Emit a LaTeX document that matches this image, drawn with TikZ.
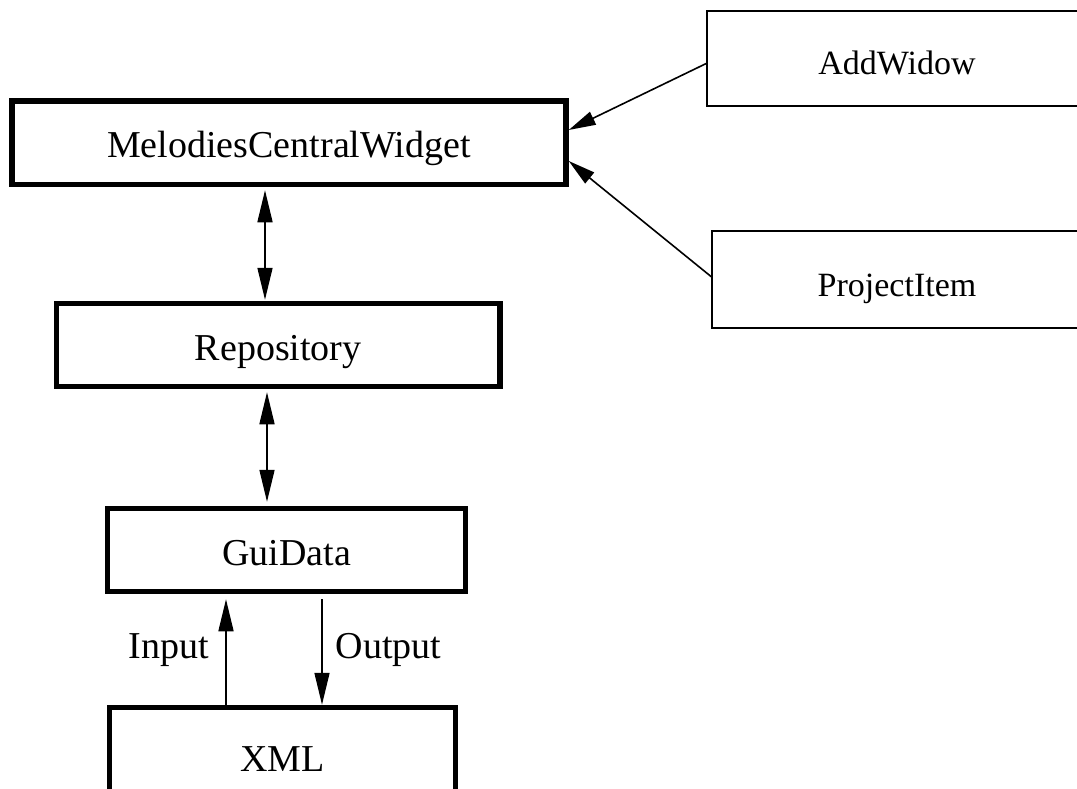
\documentclass[tikz,border=0pt]{standalone}
\usepackage{fontspec}
\setmainfont{Liberation Serif}
\usetikzlibrary{arrows.meta}
\begin{document}
\begin{tikzpicture}[x=1pt,y=-1pt,
  bigbox/.style={draw, line width=5.5pt, inner sep=0pt, outer sep=auto,
    font=\fontsize{38}{40}\selectfont, text height=30pt, text depth=0pt},
  smallbox/.style={draw, line width=1.5pt, inner sep=0pt, outer sep=auto,
    font=\fontsize{34}{36}\selectfont, text height=33pt, text depth=0pt},
  biarrow/.style={line width=1.6pt, {Triangle[length=32pt,width=15pt]}-{Triangle[length=32pt,width=15pt]}},
  onearrow/.style={line width=1.6pt, -{Triangle[length=32pt,width=15pt]}},
  diagarrow/.style={line width=1.6pt, -{Triangle[length=27pt,width=14pt]}},
  lbl/.style={font=\fontsize{38}{40}\selectfont, inner sep=0pt}
]
\useasboundingbox (0,0) rectangle (1077,789);
\fill[white] (0,0) rectangle (1077,789);
\clip (0,0) rectangle (1077,789);

\node[bigbox, minimum width=554pt, minimum height=83.5pt] (mcw) at (289,142.75) {MelodiesCentralWidget};
\node[bigbox, minimum width=443.5pt, minimum height=83pt] (rep) at (278.25,345) {Repository};
\node[bigbox, minimum width=358pt, minimum height=83pt] (gui) at (286.5,550) {GuiData};
\node[bigbox, minimum width=346pt, minimum height=97pt] (xml) at (282.5,756) {XML};

\node[smallbox, minimum width=380pt, minimum height=95pt] (add) at (897,58.5) {AddWidow};
\node[smallbox, minimum width=370pt, minimum height=97pt] (proj) at (897,279.5) {ProjectItem};

\draw[biarrow, shorten <=3pt, shorten >=1pt] (265,0 |- mcw.south) -- (265,0 |- rep.north);
\draw[biarrow, shorten <=3pt, shorten >=4pt] (267,0 |- rep.south) -- (267,0 |- gui.north);

\draw[onearrow, shorten >=5pt] (226,0 |- xml.north) -- (226,0 |- gui.south)
  node[lbl, pos=0.423, anchor=base east, xshift=-16pt] {Input};
\draw[onearrow, shorten <=5pt] (322,0 |- gui.south) -- (322,0 |- xml.north)
  node[lbl, pos=0.577, anchor=base west, xshift=13pt] {Output};

\draw[diagarrow] ([yshift=-5pt]add.west) -- ([yshift=12.75pt]mcw.east);
\draw[diagarrow] ([yshift=2.8pt]proj.west) -- ([yshift=-18.25pt]mcw.east);
\end{tikzpicture}
\end{document}
